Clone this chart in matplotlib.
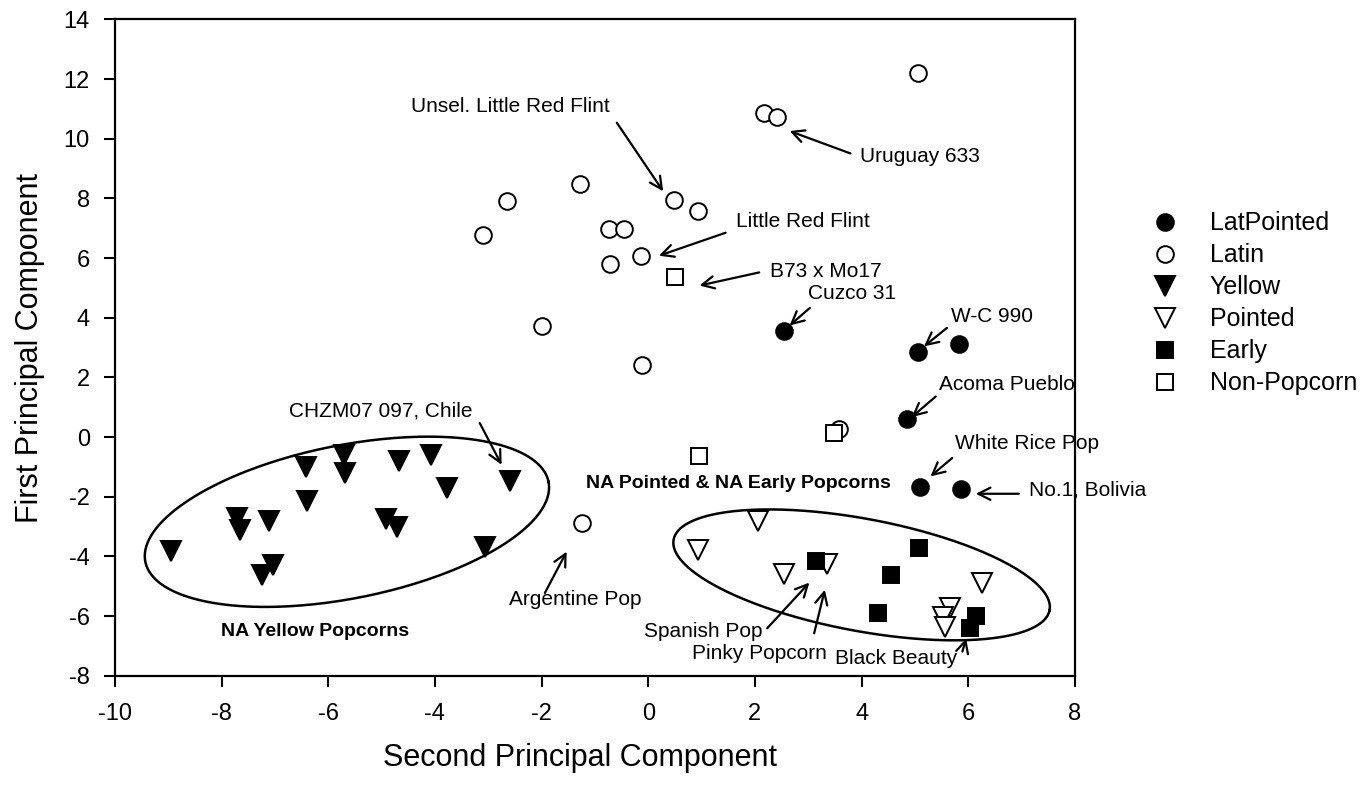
"""Principal component scatter of popcorn accessions, with group ellipses and labels."""

import numpy as np
import matplotlib

matplotlib.use("Agg")
import matplotlib.pyplot as plt  # noqa: E402

plt.rcParams["font.family"] = ["Liberation Sans", "DejaVu Sans"]
plt.rcParams["axes.unicode_minus"] = False

# --- data (second PC on x, first PC on y) ---------------------------------
latpointed_x = [2.55, 5.06, 5.83, 4.86, 5.10, 5.86]
latpointed_y = [3.54, 2.84, 3.13, 0.60, -1.68, -1.74]

latin_x = [5.06, 2.17, 2.41, -1.28, -2.64, -3.09, 0.49, 0.94, -0.74, -0.46,
           -0.14, -0.72, -1.99, -0.11, 3.57, -1.25]
latin_y = [12.21, 10.85, 10.74, 8.49, 7.91, 6.77, 7.96, 7.57, 6.98, 6.96,
           6.08, 5.80, 3.71, 2.43, 0.27, -2.87]

yellow_x = [-8.95, -7.72, -7.66, -7.11, -7.03, -7.24, -6.42, -6.39, -5.71,
            -5.69, -4.67, -4.07, -3.78, -2.60, -4.92, -4.72, -3.06]
yellow_y = [-3.81, -2.72, -3.11, -2.83, -4.29, -4.64, -0.99, -2.13, -0.59,
            -1.19, -0.79, -0.59, -1.71, -1.46, -2.75, -3.00, -3.69]

pointed_x = [2.05, 0.94, 2.55, 3.36, 6.26, 5.66, 5.53, 5.57]
pointed_y = [-2.83, -3.78, -4.60, -4.26, -4.88, -5.74, -6.02, -6.36]

early_x = [3.14, 5.07, 4.55, 4.30, 6.14, 6.03]
early_y = [-4.15, -3.73, -4.64, -5.91, -6.00, -6.39]

nonpop_x = [0.51, 3.49, 0.96]
nonpop_y = [5.36, 0.15, -0.65]

# labelled accessions: text centre, arrow tail, arrow tip
note_texts = ["Unsel. Little Red Flint", "Uruguay 633", "Little Red Flint",
              "B73 x Mo17", "Cuzco 31", "W-C 990", "Acoma Pueblo",
              "White Rice Pop", "No.1, Bolivia", "CHZM07 097, Chile",
              "Argentine Pop", "Spanish Pop", "Pinky Popcorn", "Black Beauty"]
note_xy = [(-2.59, 11.08), (5.09, 9.42), (2.89, 7.23), (3.33, 5.56),
           (3.82, 4.83), (6.44, 4.05), (6.73, 1.76), (7.11, -0.20),
           (8.23, -1.77), (-5.01, 0.88), (-1.36, -5.46), (1.03, -6.52),
           (2.09, -7.25), (4.65, -7.42)]
arrow_tail = [(-0.59, 10.54), (3.79, 9.51), (1.45, 6.85), (2.08, 5.52),
              (3.03, 4.33), (5.60, 3.66), (5.39, 1.36), (5.70, -0.70),
              (6.95, -1.90), (-3.16, 0.47), (-1.94, -5.23), (2.23, -6.41),
              (3.11, -6.58), (5.89, -7.19)]
arrow_tip = [(0.28, 8.24), (2.65, 10.26), (0.20, 6.08), (0.96, 5.08),
             (2.65, 3.74), (5.17, 3.04), (4.94, 0.67), (5.29, -1.32),
             (6.14, -1.90), (-2.75, -0.93), (-1.53, -3.84), (3.02, -4.88),
             (3.31, -5.12), (5.96, -6.75)]

group_texts = ["NA Pointed & NA Early Popcorns", "NA Yellow Popcorns"]
group_xy = [(1.70, -1.54), (-6.25, -6.52)]

# group ellipses: centre and two half-axis vectors, in data units
ellipse_centre = [(-5.65, -2.84), (4.00, -4.62)]
ellipse_u = [(3.78, 1.34), (3.525, -1.18)]
ellipse_v = [(-0.28, 2.52), (0.19, 1.85)]

# --- figure ---------------------------------------------------------------
fig = plt.figure(figsize=(13.65, 7.89), dpi=100)
ax = fig.add_axes([0.0842, 0.1436, 0.7033, 0.8317])

mk = dict(linestyle="none", markeredgecolor="black", markeredgewidth=1.4)
ax.plot(latpointed_x, latpointed_y, "o", ms=12, color="black", label="LatPointed", **mk)
ax.plot(latin_x, latin_y, "o", ms=12, markerfacecolor="white", label="Latin", **mk)
ax.plot(yellow_x, yellow_y, "v", ms=15, color="black", label="Yellow", **mk)
ax.plot(pointed_x, pointed_y, "v", ms=14, markerfacecolor="white", label="Pointed", **mk)
ax.plot(early_x, early_y, "s", ms=11, color="black", label="Early", **mk)
ax.plot(nonpop_x, nonpop_y, "s", ms=11, markerfacecolor="white", label="Non-Popcorn", **mk)

t = np.linspace(0, 2 * np.pi, 300)
for (cx, cy), (ux, uy), (vx, vy) in zip(ellipse_centre, ellipse_u, ellipse_v):
    ax.plot(cx + ux * np.cos(t) + vx * np.sin(t),
            cy + uy * np.cos(t) + vy * np.sin(t), color="black", lw=1.8)

for text, xy in zip(note_texts, note_xy):
    ax.text(xy[0], xy[1], text, ha="center", va="center", fontsize=15, clip_on=False)
for tail, tip in zip(arrow_tail, arrow_tip):
    ax.annotate("", xy=tip, xytext=tail, annotation_clip=False,
                arrowprops=dict(arrowstyle="->", lw=1.6, color="black",
                                shrinkA=0, shrinkB=0, mutation_scale=22))
for text, xy in zip(group_texts, group_xy):
    ax.text(xy[0], xy[1], text, ha="center", va="center", fontsize=14,
            fontweight="bold")

ax.set_xlim(-10, 8)
ax.set_ylim(-8, 14)
ax.set_xticks(range(-10, 9, 2))
ax.set_yticks(range(-8, 15, 2))
ax.tick_params(direction="out", length=8, width=1.5, labelsize=17)
ax.tick_params(axis="x", pad=12)
ax.tick_params(axis="y", pad=10)
for spine in ax.spines.values():
    spine.set_linewidth(1.6)

ax.set_xlabel("Second Principal Component", fontsize=22, va="center")
ax.set_ylabel("First Principal Component", fontsize=22, va="center")
ax.xaxis.set_label_coords(0.484, -0.1255)
ax.yaxis.set_label_coords(-0.0885, 0.5)

fig.legend(loc="center left", bbox_to_anchor=(0.8348, 0.6156), frameon=False,
           numpoints=1, fontsize=18, handlelength=1.0, handletextpad=1.3,
           borderpad=0, labelspacing=0.32)

fig.savefig("out.png", dpi=100)
